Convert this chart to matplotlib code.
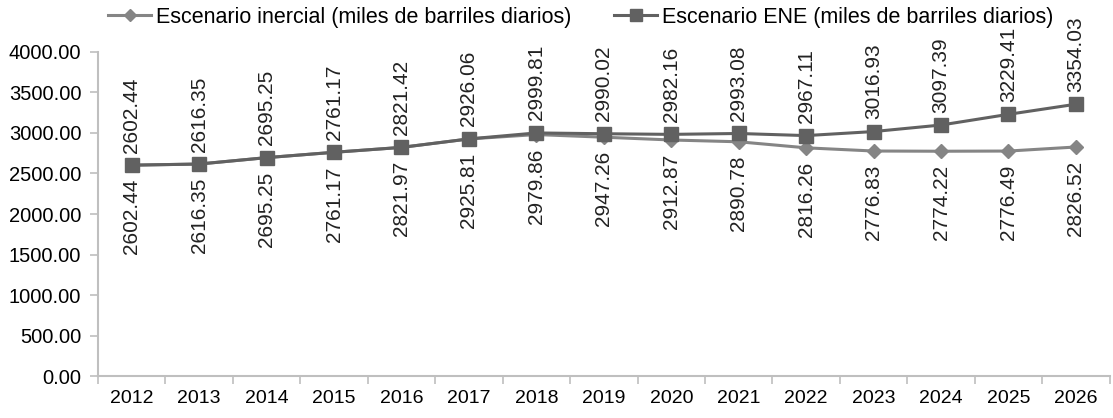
import matplotlib.pyplot as plt
import numpy as np

years = ['2012', '2013', '2014', '2015', '2016', '2017', '2018', '2019',
         '2020', '2021', '2022', '2023', '2024', '2025', '2026']
inercial = [2602.44, 2616.35, 2695.25, 2761.17, 2821.97, 2925.81, 2979.86, 2947.26,
            2912.87, 2890.78, 2816.26, 2776.83, 2774.22, 2776.49, 2826.52]
ene = [2602.44, 2616.35, 2695.25, 2761.17, 2821.42, 2926.06, 2999.81, 2990.02,
       2982.16, 2993.08, 2967.11, 3016.93, 3097.39, 3229.41, 3354.03]

plt.rcParams['font.family'] = ['Liberation Sans', 'DejaVu Sans']

fig = plt.figure(figsize=(11.13, 4.18), dpi=100)
ax = fig.add_axes([0.088, 0.10, 0.909, 0.776])

x = np.arange(len(years))
l1, = ax.plot(x, inercial, color='#858585', marker='D', markersize=7, linewidth=2.2,
              label='Escenario inercial (miles de barriles diarios)')
l2, = ax.plot(x, ene, color='#616161', marker='s', markersize=10, linewidth=2.2,
              label='Escenario ENE (miles de barriles diarios)')

# etiquetas de datos: ENE arriba, inercial abajo
for i, v in enumerate(ene):
    ax.annotate('%.2f' % v, (i, v), xytext=(0, 9), textcoords='offset points',
                rotation=90, ha='center', va='bottom', fontsize=15, color='#222222')
for i, v in enumerate(inercial):
    ax.annotate('%.2f' % v, (i, v), xytext=(0, -10), textcoords='offset points',
                rotation=90, ha='center', va='top', fontsize=15, color='#222222')

ax.set_xlim(-0.5, len(years) - 0.5)
ax.set_ylim(0, 4000)
ax.set_yticks(np.arange(0, 4001, 500))
ax.set_yticklabels(['%.2f' % t for t in np.arange(0, 4001, 500)])
ax.set_xticks(x)
ax.set_xticklabels(years)
ax.set_xticks(np.arange(-0.5, len(years), 1), minor=True)
ax.tick_params(axis='x', which='major', length=0, pad=10, labelsize=14)
ax.tick_params(axis='x', which='minor', length=6, color='#bfbfbf', width=1.2)
ax.tick_params(axis='y', length=6, color='#bfbfbf', width=1.2, labelsize=14.5, pad=6)

for s in ['top', 'right']:
    ax.spines[s].set_visible(False)
for s in ['left', 'bottom']:
    ax.spines[s].set_color('#bfbfbf')
    ax.spines[s].set_linewidth(1.5)

fig.legend(handles=[l1, l2], loc='upper left', bbox_to_anchor=(0.08, 1.03), ncol=2,
           frameon=False, fontsize=15.5, handlelength=2.0, handletextpad=0.2,
           columnspacing=2.0, markerscale=0.85)

fig.savefig('out.png', dpi=100)
